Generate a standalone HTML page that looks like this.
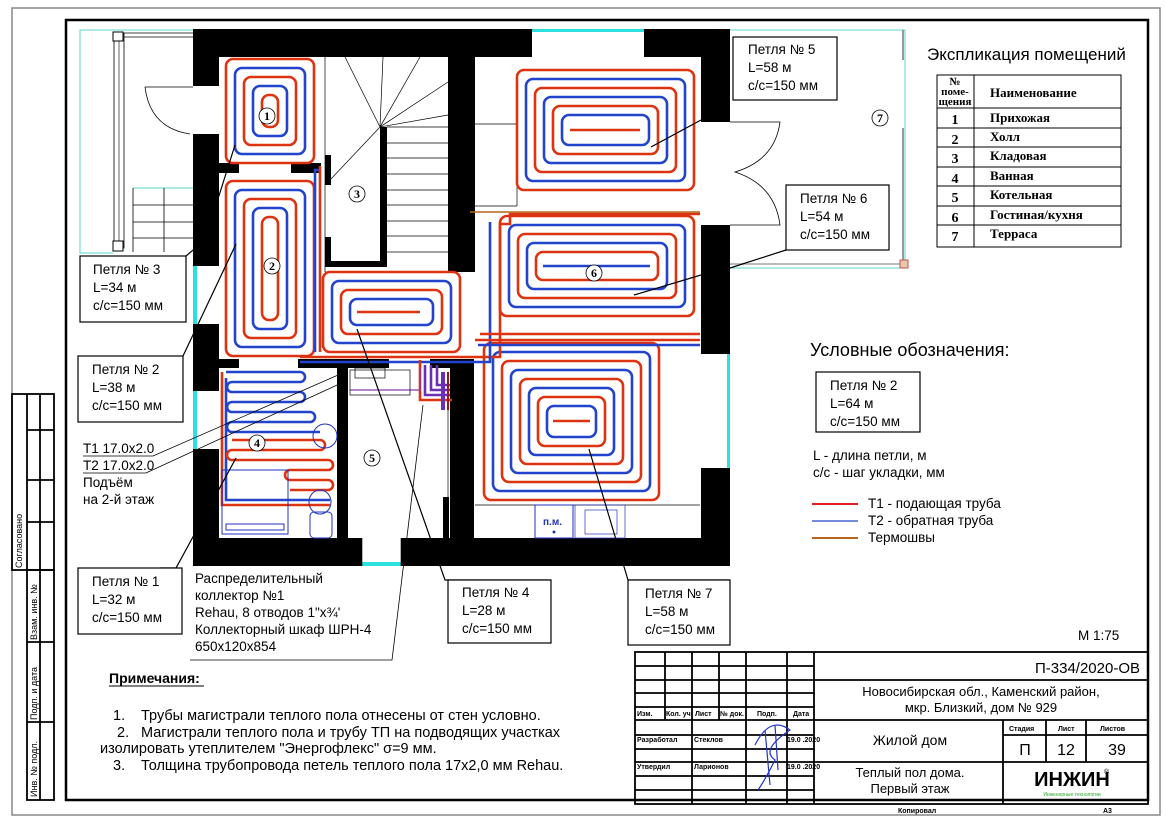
<!DOCTYPE html>
<html><head><meta charset="utf-8"><style>
html,body{margin:0;padding:0;background:#fff}
svg{display:block}
text{font-family:"Liberation Sans",Arial,sans-serif;fill:#000}
.s text, text.s{font-family:"Liberation Serif",serif;font-weight:bold}
</style></head><body>
<svg width="1166" height="824" viewBox="0 0 1166 824" xmlns="http://www.w3.org/2000/svg">
<rect width="1166" height="824" fill="#fff"/>
<rect x="12" y="8" width="1148" height="807" fill="none" stroke="#888" stroke-width="1.5"/>
<rect x="66" y="20" width="1082" height="780" fill="none" stroke="#000" stroke-width="2.5"/>
<g stroke="#000" stroke-width="1.8" fill="none">
<rect x="12" y="394" width="42" height="176"/>
<line x1="27" y1="394" x2="27" y2="570"/><line x1="40" y1="394" x2="40" y2="570"/>
<line x1="27" y1="430" x2="54" y2="430"/><line x1="27" y1="480" x2="54" y2="480"/><line x1="27" y1="522" x2="54" y2="522"/>
<rect x="27" y="570" width="27" height="230"/>
<line x1="40" y1="570" x2="40" y2="800"/>
<line x1="27" y1="642" x2="54" y2="642"/><line x1="27" y1="722" x2="54" y2="722"/>
</g>
<g font-size="9">
<text transform="translate(22,568) rotate(-90)">Согласовано</text>
<text transform="translate(37,640) rotate(-90)">Взам. инв. №</text>
<text transform="translate(37,720) rotate(-90)">Подп. и дата</text>
<text transform="translate(37,797) rotate(-90)">Инв. № подл.</text>
</g>

<g fill="none">
<path d="M193 30 H80 V253 H113" stroke="#5cd6d6" stroke-width="1"/>
<path d="M133 188 H193" stroke="#5cd6d6" stroke-width="1"/>
<rect x="114" y="33" width="10" height="215" stroke="#000" stroke-width="0.8"/>
<line x1="119" y1="37" x2="119" y2="245" stroke="#000" stroke-width="0.6"/>
<line x1="124" y1="33" x2="193" y2="33" stroke="#000" stroke-width="0.8"/>
<line x1="124" y1="37" x2="193" y2="37" stroke="#000" stroke-width="0.8"/>
<rect x="113" y="32" width="10" height="9" stroke="#000" fill="#fff"/>
<rect x="113" y="241" width="10" height="10" stroke="#000" fill="#fff"/>
<path d="M133 188 V252 M133 205 H193 M133 222 H193 M133 238 H193 M164 188 V252" stroke="#000" stroke-width="0.8"/>
<path d="M145 87 H193 M145 87 Q150 128 190 134" stroke="#000" stroke-width="0.8"/>
</g>

<g fill="none">
<path d="M730 30 H905 V268 H730" stroke="#5cd6d6" stroke-width="1"/>
<path d="M903 30 V60 M903 128 V265" stroke="#999" stroke-width="2"/>
<path d="M730 264 H903" stroke="#bbb" stroke-width="2"/>
<rect x="900" y="260" width="8" height="8" fill="#e8c8a8" stroke="#b55"/>
<path d="M730 122 H780 Q775 160 735 172 Q775 185 780 225 H730" stroke="#000" stroke-width="0.8"/>
</g>

<g stroke="#000" stroke-width="0.7" fill="none">
<line x1="380" y1="127" x2="345" y2="57"/><line x1="380" y1="127" x2="383" y2="57"/><line x1="380" y1="127" x2="420" y2="57"/>
<line x1="380" y1="127" x2="448" y2="82"/><line x1="380" y1="127" x2="448" y2="115"/><line x1="380" y1="127" x2="330" y2="180"/>
<line x1="387" y1="127" x2="448" y2="127"/>
<line x1="387" y1="143" x2="448" y2="143"/><line x1="387" y1="158" x2="448" y2="158"/><line x1="387" y1="174" x2="448" y2="174"/>
<line x1="387" y1="190" x2="448" y2="190"/><line x1="387" y1="205" x2="448" y2="205"/><line x1="387" y1="221" x2="448" y2="221"/>
<line x1="387" y1="236" x2="448" y2="236"/><line x1="387" y1="252" x2="448" y2="252"/>
<line x1="325" y1="57" x2="325" y2="272"/><line x1="325" y1="272" x2="448" y2="272"/>
<line x1="475" y1="124" x2="517" y2="124"/><line x1="475" y1="206" x2="517" y2="206"/><line x1="517" y1="124" x2="517" y2="206"/>
</g>

<g fill="#000">
<rect x="193" y="29" width="339" height="28"/>
<rect x="644" y="29" width="86" height="28"/>
<rect x="193" y="29" width="26" height="57"/>
<rect x="193" y="134" width="26" height="132"/>
<rect x="193" y="324" width="26" height="67"/>
<rect x="193" y="449" width="26" height="117"/>
<rect x="193" y="538" width="169" height="28"/>
<rect x="401" y="538" width="329" height="28"/>
<rect x="701" y="29" width="29" height="93"/>
<rect x="701" y="225" width="29" height="129"/>
<rect x="701" y="468" width="29" height="98"/>
<rect x="448" y="57" width="27" height="215"/>
<rect x="450" y="359" width="24" height="180"/>
<rect x="380" y="127" width="7" height="139"/>
<rect x="325" y="261" width="62" height="6"/>
<rect x="325" y="155" width="6" height="30"/>
<rect x="325" y="237" width="6" height="25"/>
<rect x="219" y="163" width="20" height="10"/>
<rect x="291" y="163" width="30" height="10"/>
<rect x="219" y="359" width="20" height="9"/>
<rect x="298" y="359" width="91" height="9"/>
<rect x="430" y="359" width="20" height="9"/>
<rect x="337" y="368" width="11" height="170"/>
<rect x="443" y="497" width="6" height="41"/>
</g>
<g fill="#2de0e0">
<rect x="532" y="29" width="112" height="3"/>
<rect x="193" y="266" width="4" height="58"/>
<rect x="193" y="391" width="4" height="58"/>
<rect x="362" y="562" width="39" height="4"/>
<rect x="727" y="354" width="3" height="114"/>
</g>
<path d="M362 538 V566 M401 538 V566" stroke="#000" stroke-width="0.6"/>

<g fill="none" stroke-width="2.6">
<rect x="226" y="59" width="88" height="104" rx="7" stroke="#d31"/>
<rect x="235" y="68" width="70" height="86" rx="7" stroke="#24c"/>
<rect x="244" y="77" width="52" height="68" rx="7" stroke="#d31"/>
<rect x="253" y="86" width="34" height="50" rx="7" stroke="#24c"/>
<rect x="262" y="95" width="16" height="32" rx="7" stroke="#d31"/>
<rect x="226" y="181" width="88" height="175" rx="7" stroke="#d31"/>
<rect x="235" y="190" width="70" height="157" rx="7" stroke="#24c"/>
<rect x="244" y="199" width="52" height="139" rx="7" stroke="#d31"/>
<rect x="253" y="208" width="34" height="121" rx="7" stroke="#24c"/>
<rect x="262" y="217" width="16" height="103" rx="7" stroke="#d31"/>
<rect x="323" y="272" width="137" height="80" rx="7" stroke="#d31"/>
<rect x="332" y="281" width="119" height="62" rx="7" stroke="#24c"/>
<rect x="341" y="290" width="101" height="44" rx="7" stroke="#d31"/>
<rect x="350" y="299" width="83" height="26" rx="7" stroke="#24c"/>
<line x1="357" y1="312" x2="420" y2="312" stroke="#d31"/>
<rect x="517" y="70" width="177" height="120" rx="7" stroke="#d31"/>
<rect x="526" y="79" width="159" height="102" rx="7" stroke="#24c"/>
<rect x="535" y="88" width="141" height="84" rx="7" stroke="#d31"/>
<rect x="544" y="97" width="123" height="66" rx="7" stroke="#24c"/>
<rect x="553" y="106" width="105" height="48" rx="7" stroke="#d31"/>
<rect x="562" y="115" width="87" height="30" rx="7" stroke="#24c"/>
<line x1="570" y1="130" x2="640" y2="130" stroke="#d31"/>
<rect x="500" y="216" width="194" height="100" rx="7" stroke="#d31"/>
<rect x="509" y="225" width="176" height="82" rx="7" stroke="#24c"/>
<rect x="518" y="234" width="158" height="64" rx="7" stroke="#d31"/>
<rect x="527" y="243" width="140" height="46" rx="7" stroke="#24c"/>
<rect x="536" y="252" width="122" height="28" rx="7" stroke="#d31"/>
<line x1="543" y1="266" x2="650" y2="266" stroke="#24c"/>
<rect x="484" y="343" width="175" height="157" rx="7" stroke="#d31"/>
<rect x="493" y="352" width="157" height="139" rx="7" stroke="#24c"/>
<rect x="502" y="361" width="139" height="121" rx="7" stroke="#d31"/>
<rect x="511" y="370" width="121" height="103" rx="7" stroke="#24c"/>
<rect x="520" y="379" width="103" height="85" rx="7" stroke="#d31"/>
<rect x="529" y="388" width="85" height="67" rx="7" stroke="#24c"/>
<rect x="538" y="397" width="67" height="49" rx="7" stroke="#d31"/>
<rect x="547" y="406" width="49" height="31" rx="7" stroke="#24c"/>
<line x1="553" y1="421" x2="590" y2="421" stroke="#d31"/>
<path d="M226 378 V500 H330 M226 372 H300 A5 5 0 0 1 300 382 H232 A5 5 0 0 0 232 392 H300 A5 5 0 0 1 300 402 H232 A5 5 0 0 0 232 412 H310 A5 5 0 0 1 310 422 H232 A5 5 0 0 0 232 432 H320" stroke="#24c"/>
<path d="M222 372 V505 H330 M232 440 H320 A5 5 0 0 1 320 450 H232 A5 5 0 0 0 232 460 H328 A5 5 0 0 1 328 470 H290 A5 5 0 0 0 290 480 H328 A5 5 0 0 1 328 490 H290" stroke="#d31"/>
<path d="M300 357 H500 V224 H510 V214 H700" stroke="#d31"/>
<path d="M300 362 H490 V222" stroke="#24c"/>
<path d="M315 352 V170 H320" stroke="#24c"/>
<path d="M320 352 V166" stroke="#d31"/>
<path d="M475 340 H700 M480 334 H700" stroke="#d31"/>
<path d="M478 345 H700" stroke="#24c"/>
<path d="M470 212 H700" stroke="#b5651d" stroke-width="1.5"/>
<path d="M425 365 V395 H450 M431 365 V390 H450 M437 365 V385 H450" stroke="#6a2fb5"/>
<path d="M420 360 V400 H452" stroke="#d31"/>
<path d="M443 372 V410" stroke="#6a2fb5" stroke-width="4"/>
<path d="M448 372 V410" stroke="#e22" stroke-width="2"/>
<path d="M350 390 H420 V368" stroke="#8a3aa8" stroke-width="1.2"/>
</g>

<g fill="none" stroke="#2233bb" stroke-width="1">
<rect x="222" y="470" width="66" height="64"/>
<rect x="226" y="524" width="58" height="6"/>
<circle cx="325" cy="436" r="12"/>
<ellipse cx="320" cy="502" rx="11" ry="12"/>
<rect x="310" y="512" width="22" height="26" rx="4"/>
</g>
<g fill="none" stroke="#000" stroke-width="0.7">
<rect x="350" y="370" width="60" height="25"/>
<rect x="355" y="368" width="30" height="10"/>
<line x1="448" y1="372" x2="448" y2="538"/>
<line x1="475" y1="505" x2="700" y2="505"/>
<rect x="575" y="505" width="50" height="33" stroke="#2233bb"/>
<rect x="585" y="510" width="32" height="24" stroke="#2233bb"/>
</g>
<rect x="535" y="505" width="38" height="33" fill="#fff" stroke="#2233bb" stroke-width="1"/>
<text x="543" y="525" font-size="10" font-weight="bold" style="fill:#2233bb">п.м.</text>
<circle cx="554" cy="532" r="1.5" fill="#2233bb"/>

<g fill="#fff" stroke="#000" stroke-width="0.8">
<circle cx="267" cy="116" r="8"/><circle cx="272" cy="266" r="8"/><circle cx="357" cy="194" r="8"/>
<circle cx="257" cy="443" r="8"/><circle cx="372" cy="458" r="8"/><circle cx="594" cy="273" r="8"/><circle cx="880" cy="118" r="8"/>
</g>
<g font-size="12" text-anchor="middle" class="s">
<text x="267" y="120">1</text><text x="272" y="270">2</text><text x="357" y="198">3</text>
<text x="257" y="447">4</text><text x="372" y="462">5</text><text x="594" y="277">6</text><text x="880" y="122">7</text>
</g>

<g stroke="#000" stroke-width="1.2" fill="none">
<path d="M701 120 L651 147"/>
<path d="M786 250 L730 268 M701 275 L634 295"/>
<path d="M186 256 L205 240 L235 145"/>
<path d="M183 356 L236 244"/>
<path d="M160 568 L176 568 L236 458"/>
<path d="M357 329 L445 580 H551"/>
<path d="M589 449 L628 580 H730"/>
<path d="M190 660 H392 L423 405" stroke-width="0.8"/>
<path d="M83 456 H153 L345 372 M83 473 H146 L348 380" stroke-width="0.8"/>
</g>

<g fill="#fff" stroke="#000" stroke-width="1.2">
<rect x="733" y="37" width="104" height="63"/>
<rect x="786" y="185" width="103" height="65"/>
<rect x="80" y="256" width="106" height="66"/>
<rect x="78" y="356" width="105" height="66"/>
<rect x="78" y="568" width="104" height="66"/>
<rect x="448" y="580" width="103" height="63"/>
<rect x="628" y="580" width="102" height="65"/>
<rect x="816" y="372" width="104" height="60"/>
</g>
<g font-size="13.5">
<text x="748" y="54">Петля № 5</text><text x="748" y="72">L=58 м</text><text x="748" y="90">с/с=150 мм</text>
<text x="800" y="203">Петля № 6</text><text x="800" y="221">L=54 м</text><text x="800" y="239">с/с=150 мм</text>
<text x="93" y="274">Петля № 3</text><text x="93" y="292">L=34 м</text><text x="93" y="310">с/с=150 мм</text>
<text x="92" y="374">Петля № 2</text><text x="92" y="392">L=38 м</text><text x="92" y="410">с/с=150 мм</text>
<text x="92" y="586">Петля № 1</text><text x="92" y="604">L=32 м</text><text x="92" y="622">с/с=150 мм</text>
<text x="462" y="597">Петля № 4</text><text x="462" y="615">L=28 м</text><text x="462" y="633">с/с=150 мм</text>
<text x="645" y="598">Петля № 7</text><text x="645" y="616">L=58 м</text><text x="645" y="634">с/с=150 мм</text>
<text x="830" y="390">Петля № 2</text><text x="830" y="408">L=64 м</text><text x="830" y="426">с/с=150 мм</text>
<text x="83" y="453">Т1 17.0х2.0</text><text x="83" y="470">Т2 17.0х2.0</text>
<text x="83" y="487">Подъём</text><text x="83" y="504">на 2-й этаж</text>
<text x="195" y="583">Распределительный</text><text x="195" y="600">коллектор №1</text>
<text x="195" y="617">Rehau, 8 отводов 1"х¾'</text><text x="195" y="634">Коллекторный шкаф ШРН-4</text>
<text x="195" y="651">650х120х854</text>
<text x="813" y="460">L - длина петли, м</text><text x="813" y="477">с/с - шаг укладки, мм</text>
<text x="868" y="508">Т1 - подающая труба</text><text x="868" y="525">Т2 - обратная труба</text><text x="868" y="542">Термошвы</text>
<text x="1078" y="640">М 1:75</text>
</g>
<g stroke-width="2">
<line x1="812" y1="504" x2="858" y2="504" stroke="#e02020"/>
<line x1="812" y1="521" x2="858" y2="521" stroke="#2244cc" stroke-width="1.3"/>
<line x1="812" y1="538" x2="858" y2="538" stroke="#b5651d"/>
</g>
<text x="810" y="356" font-size="18">Условные обозначения:</text>

<text x="927" y="60" font-size="17">Экспликация помещений</text>
<g stroke="#000" stroke-width="1" fill="none">
<rect x="937" y="75" width="184" height="172"/>
<line x1="974" y1="75" x2="974" y2="247"/>
<line x1="937" y1="108" x2="1121" y2="108"/><line x1="937" y1="128" x2="1121" y2="128"/>
<line x1="937" y1="147" x2="1121" y2="147"/><line x1="937" y1="167" x2="1121" y2="167"/>
<line x1="937" y1="186" x2="1121" y2="186"/><line x1="937" y1="206" x2="1121" y2="206"/>
<line x1="937" y1="225" x2="1121" y2="225"/>
</g>
<g class="s" font-size="13">
<text x="955" y="85" font-size="11" text-anchor="middle">№</text>
<text x="955" y="95" font-size="11" text-anchor="middle">поме-</text>
<text x="955" y="105" font-size="11" text-anchor="middle">щения</text>
<text x="990" y="97">Наименование</text>
<g text-anchor="middle" font-size="14"><text x="955" y="124">1</text><text x="955" y="144">2</text><text x="955" y="163">3</text><text x="955" y="183">4</text><text x="955" y="202">5</text><text x="955" y="222">6</text><text x="955" y="241">7</text></g>
<text x="990" y="122">Прихожая</text><text x="990" y="141">Холл</text><text x="990" y="160">Кладовая</text><text x="990" y="180">Ванная</text>
<text x="990" y="199">Котельная</text><text x="990" y="219">Гостиная/кухня</text><text x="990" y="238">Терраса</text>
</g>

<g font-size="14.5">
<text x="109" y="683" font-weight="bold" font-size="14">Примечания:</text>
<line x1="109" y1="686" x2="204" y2="686" stroke="#000" stroke-width="1"/>
<text x="113" y="720">1.</text><text x="141" y="720">Трубы магистрали теплого пола отнесены от стен условно.</text>
<text x="117" y="737">2.</text><text x="141" y="737">Магистрали теплого пола и трубу ТП на подводящих участках</text>
<text x="100" y="753">изолировать утеплителем "Энергофлекс" σ=9 мм.</text>
<text x="113" y="770">3.</text><text x="141" y="770">Толщина трубопровода петель теплого пола 17х2,0 мм Rehau.</text>
</g>

<g stroke="#000" stroke-width="1.8" fill="none">
<rect x="635" y="652" width="513" height="152"/>
<line x1="814" y1="652" x2="814" y2="804"/>
<line x1="665" y1="652" x2="665" y2="720"/><line x1="692" y1="652" x2="692" y2="804"/>
<line x1="719" y1="652" x2="719" y2="720"/><line x1="746" y1="652" x2="746" y2="804"/>
<line x1="787" y1="652" x2="787" y2="804"/>
<line x1="635" y1="666" x2="814" y2="666"/><line x1="635" y1="680" x2="1148" y2="680"/>
<line x1="635" y1="693" x2="814" y2="693"/><line x1="635" y1="707" x2="814" y2="707"/>
<line x1="635" y1="720" x2="1148" y2="720"/><line x1="635" y1="735" x2="814" y2="735"/>
<line x1="635" y1="749" x2="814" y2="749"/><line x1="635" y1="762" x2="1148" y2="762"/>
<line x1="635" y1="776" x2="814" y2="776"/><line x1="635" y1="790" x2="814" y2="790"/>
<line x1="1003" y1="720" x2="1003" y2="804"/><line x1="1046" y1="720" x2="1046" y2="762"/>
<line x1="1086" y1="720" x2="1086" y2="762"/><line x1="1003" y1="735" x2="1148" y2="735"/>
</g>
<g font-size="7" font-weight="bold">
<text x="637" y="716">Изм.</text><text x="666" y="716">Кол. уч</text><text x="695" y="716">Лист</text><text x="720" y="716">№ док.</text>
<text x="757" y="716">Подп.</text><text x="793" y="716">Дата</text>
<text x="637" y="742">Разработал</text><text x="694" y="742">Стеклов</text><text x="787" y="742">19.0 .2020</text>
<text x="637" y="769">Утвердил</text><text x="694" y="769">Ларионов</text><text x="787" y="769">19.0 .2020</text>
<text x="1009" y="731">Стадия</text><text x="1058" y="731">Лист</text><text x="1100" y="731">Листов</text>
<text x="898" y="813">Копировал</text><text x="1103" y="813">А3</text>
</g>
<path d="M755 745 Q770 715 790 730 Q760 750 775 760 Q765 780 758 790 M765 730 L770 785 M775 725 L778 770" stroke="#2233cc" stroke-width="1.2" fill="none"/>
<g font-size="14">
<text x="1140" y="673" text-anchor="end" font-size="15">П-334/2020-ОВ</text>
<text x="981" y="696" text-anchor="middle" font-size="13">Новосибирская обл., Каменский район,</text>
<text x="981" y="712" text-anchor="middle" font-size="13">мкр. Близкий, дом № 929</text>
<text x="910" y="745" text-anchor="middle">Жилой дом</text>
<text x="1025" y="755" text-anchor="middle" font-size="16">П</text>
<text x="1066" y="755" text-anchor="middle" font-size="16">12</text>
<text x="1117" y="755" text-anchor="middle" font-size="16">39</text>
<text x="910" y="777" text-anchor="middle" font-size="13">Теплый пол дома.</text>
<text x="910" y="793" text-anchor="middle" font-size="13">Первый этаж</text>
<text x="1072" y="786" text-anchor="middle" font-size="20" font-weight="bold">ИНЖИН</text>
<text x="1104" y="774" font-size="7">®</text>
<text x="1072" y="796" text-anchor="middle" font-size="5" style="fill:#2a2">Инженерные технологии</text>
</g>
</svg>
</body></html>
